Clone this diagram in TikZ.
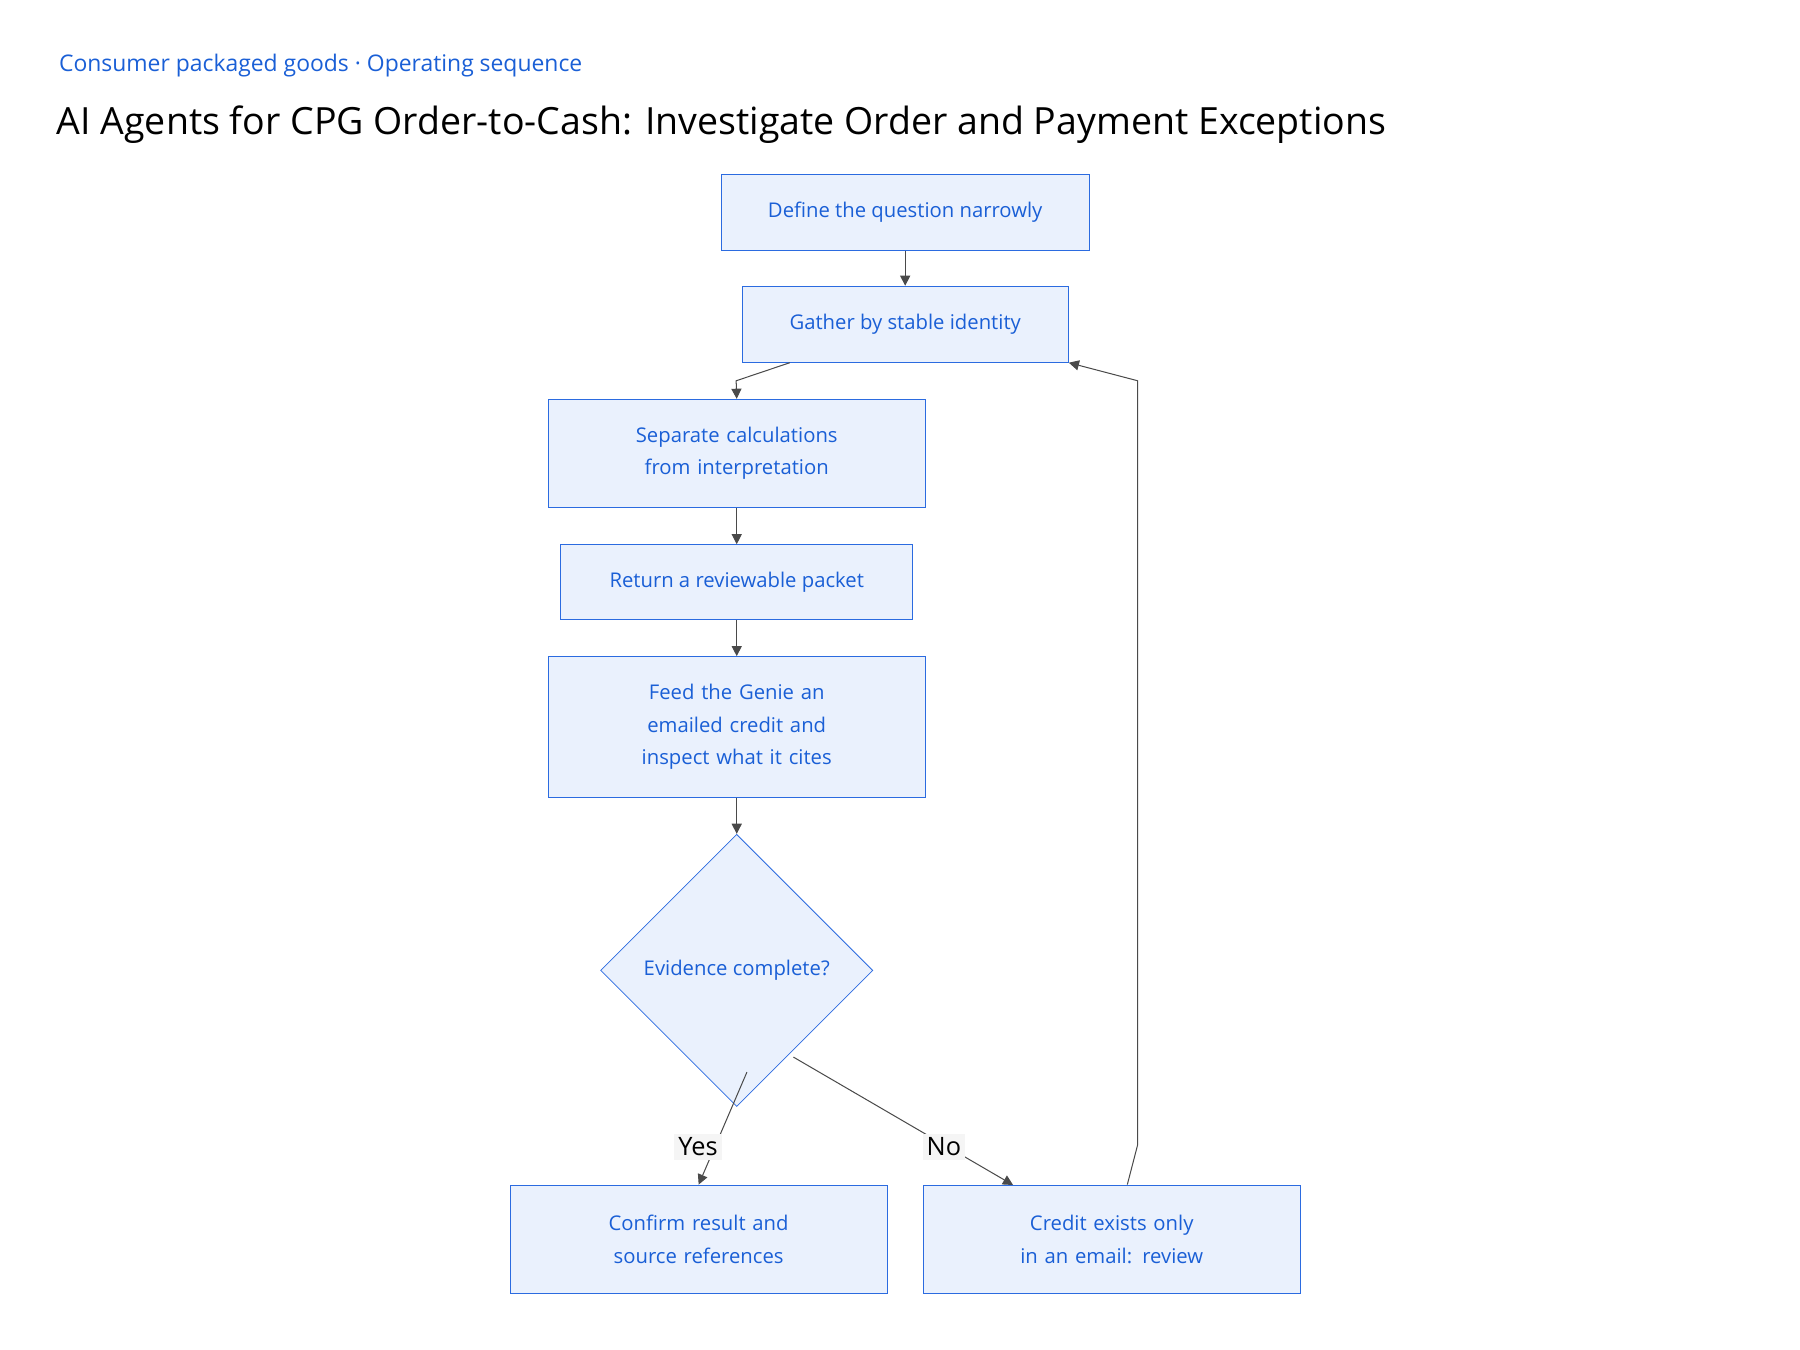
\documentclass[tikz,border=0pt]{standalone}
\usepackage{fontspec}
\setmainfont{Open Sans}
\usepackage{tikz}
\usetikzlibrary{shapes.geometric,arrows.meta}
\definecolor{stepblue}{HTML}{1A5FD6}
\definecolor{stepfill}{HTML}{EAF1FD}
\definecolor{stepline}{HTML}{2B6BE0}
\definecolor{edgegray}{HTML}{4A4A4A}
\tikzset{
  stage/.style={draw=stepline,fill=stepfill,text=stepblue,font=\fontsize{10}{16}\selectfont,
    align=center,inner sep=2pt},
  check/.style={stage,diamond,minimum width=4.72cm,minimum height=4.72cm,inner sep=0pt},
  flow/.style={draw=edgegray,line width=0.5pt,-{Triangle[length=5pt,width=5pt]}},
  answer/.style={fill=black!4,text=black,font=\fontsize{12.5}{14}\selectfont,inner sep=2pt}
}
\begin{document}
\begin{tikzpicture}[x=0.02cm,y=-0.02cm]
  \useasboundingbox (0,0) rectangle (1560,1170);
  % headings
  \node[anchor=west,text=stepblue,font=\fontsize{11.3}{13}\selectfont] (kicker) at (45,57)
    {Consumer packaged goods · Operating sequence};
  \node[anchor=west,font=\fontsize{18.5}{22}\selectfont] (title) at (43,108)
    {AI Agents for CPG Order-to-Cash: Investigate Order and Payment Exceptions};
  % stages
  \node[stage,minimum width=6.38cm,minimum height=1.32cm] (define) at (784.5,184) {Define the question narrowly};
  \node[stage,minimum width=5.66cm,minimum height=1.32cm] (gather) at (784.5,281) {Gather by stable identity};
  \node[stage,minimum width=6.54cm,minimum height=1.88cm,text width=5.2cm] (separate) at (638.5,393)
    {Separate calculations from interpretation};
  \node[stage,minimum width=6.1cm,minimum height=1.3cm] (packet) at (638.5,504.5) {Return a reviewable packet};
  \node[stage,minimum width=6.54cm,minimum height=2.44cm,text width=4.6cm] (feed) at (638.5,630)
    {Feed the Genie an emailed credit and inspect what it cites};
  \node[check] (complete) at (638.5,841) {Evidence complete?};
  \node[stage,minimum width=6.54cm,minimum height=1.88cm,text width=5cm] (confirm) at (605.5,1074)
    {Confirm result and source references};
  \node[stage,minimum width=6.54cm,minimum height=1.88cm,text width=5.4cm] (review) at (963.5,1074)
    {Credit exists only in an email: review};
  % connectors
  \draw[flow] (define) -- (gather);
  \draw[flow] (gather.south) ++(-100,0) coordinate (g0) -- (638,330) -- (separate.north);
  \draw[flow] (separate) -- (packet);
  \draw[flow] (packet) -- (feed);
  \draw[flow] (feed) -- (complete);
  \draw[flow] (complete.south west) ++(68,29) coordinate (y0) -- (confirm.north);
  \draw[flow] (complete.south east) ++(-10,16) coordinate (n0) -- (878,1027);
  \draw[flow] (review.north) ++(13.5,0) coordinate (r0) -- (986,992) -- (986,330) -- (gather.south east);
  \node[answer] (yes) at (605,994) {Yes};
  \node[answer] (no) at (818,994) {No};
\end{tikzpicture}
\end{document}
